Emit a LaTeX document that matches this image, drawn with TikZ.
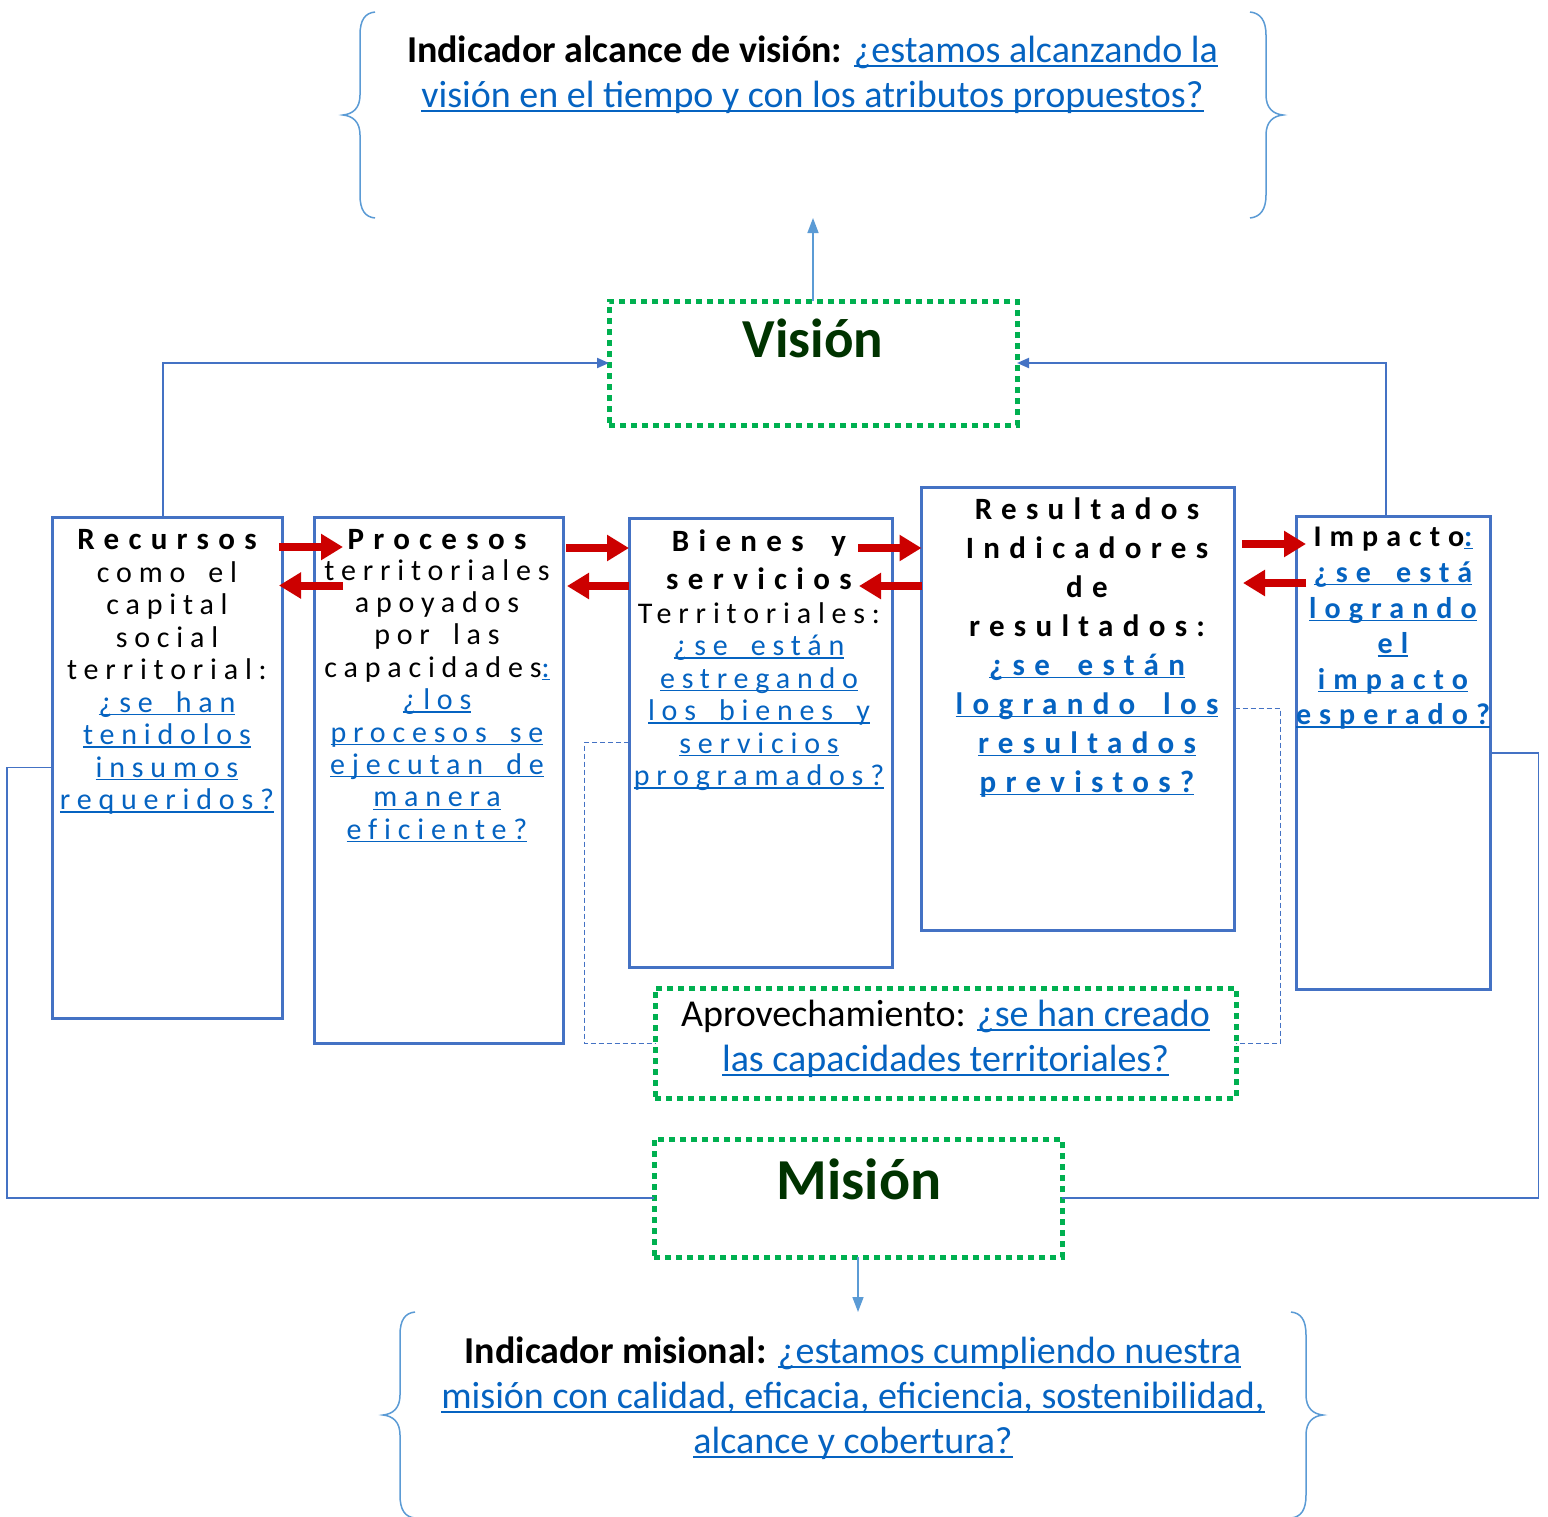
\documentclass[tikz,border=0pt]{standalone}
\usepackage{fontspec}
\setmainfont{Carlito}
\newfontfamily\spR[LetterSpace=22.7,WordSpace=1.7,Ligatures=CommonOff]{Carlito}
\newfontfamily\spB[LetterSpace=30,WordSpace=1.7,Ligatures=CommonOff]{Carlito}
\newfontfamily\spI[LetterSpace=27,WordSpace=1.7,Ligatures=CommonOff]{Carlito}
\usetikzlibrary{arrows.meta}
\definecolor{boxblue}{RGB}{68,114,196}
\definecolor{lightblue}{RGB}{91,155,213}
\definecolor{linkblue}{RGB}{5,99,193}
\definecolor{dgreen}{RGB}{0,176,80}
\definecolor{darkgreen}{RGB}{0,51,0}
\definecolor{arrred}{RGB}{204,0,0}
\newcommand\ulS[1]{\setbox0=\hbox{#1}\rlap{\rule[-3pt]{\wd0}{1.3pt}}\box0}
\newcommand\ulL[1]{\setbox0=\hbox{#1}\rlap{\rule[-4.5pt]{\wd0}{1.8pt}}\box0}
\begin{document}
\begin{tikzpicture}[x=1pt,y=-1pt,
 lt/.style={anchor=base,inner sep=0pt,outer sep=0pt},
 rg/.style={lt,font=\spR\fontsize{30}{36}\selectfont},
 bd/.style={lt,font=\spB\bfseries\fontsize{31}{36}\selectfont},
 bi/.style={lt,font=\spI\bfseries\fontsize{30}{36}\selectfont},
 lk/.style={text=linkblue},
 big/.style={lt,font=\fontsize{38}{45}\selectfont},
 bx/.style={draw=boxblue,line width=3pt,anchor=north west,inner sep=0pt,outer sep=0pt},
 gbox/.style={draw=dgreen,line width=5pt,dash pattern=on 6pt off 5pt,anchor=north west,inner sep=0pt,outer sep=0pt},
 brace/.style={draw=lightblue,line width=1.5pt},
 redarr/.style={draw=arrred,line width=8pt,-{Triangle[length=22pt,width=25pt]}},
 uparr/.style={draw=lightblue,line width=1.5pt,-{Triangle[length=15pt,width=11pt]}},
 conn/.style={draw=boxblue,line width=2pt,-{Triangle[length=12pt,width=10pt]}},
 thinln/.style={draw=boxblue,line width=1.5pt},
 dashln/.style={draw=boxblue,line width=1pt,dash pattern=on 5pt off 3pt}
]
\path[use as bounding box,fill=white] (0,0) rectangle (1548,1516);

% boxes
\node[bx,minimum width=230pt,minimum height=501pt] (rec) at (52,517) {};
\node[bx,minimum width=249pt,minimum height=526pt] (pro) at (314,517) {};
\node[bx,minimum width=263pt,minimum height=449pt] (bie) at (629,518) {};
\node[bx,minimum width=313pt,minimum height=443pt] (res) at (921.5,487) {};
\node[bx,minimum width=194.5pt,minimum height=472.5pt] (imp) at (1296,516.5) {};
\node[gbox,minimum width=408pt,minimum height=124pt] (vis) at (609,301) {};
\node[gbox,minimum width=581pt,minimum height=110pt] (apr) at (655,988) {};
\node[gbox,minimum width=408pt,minimum height=118pt] (mis) at (654,1139) {};

% titles
\node[lt,font=\bfseries\fontsize{55}{60}\selectfont,text=darkgreen] (vist) at (813,357) {Visión};
\node[lt,font=\bfseries\fontsize{58}{60}\selectfont,text=darkgreen] (mist) at (859,1199) {Misión};

% top indicator
\node[big] (t1) at (812.5,62) {\textbf{Indicador alcance de visión:} \textcolor{linkblue}{\ulL{¿estamos alcanzando la}}};
\node[big,lk] (t2) at (812.5,107) {\ulL{visión en el tiempo y con los atributos propuestos?}};
% bottom indicator
\node[big] (b1) at (853,1363) {\textbf{Indicador misional:} \textcolor{linkblue}{\ulL{¿estamos cumpliendo nuestra}}};
\node[big,lk] (b2) at (853,1408) {\ulL{misión con calidad, eficacia, eficiencia, sostenibilidad,}};
\node[big,lk] (b3) at (853,1453) {\ulL{alcance y cobertura?}};
% aprovechamiento
\node[big] (a1) at (945.5,1026.5) {Aprovechamiento: \textcolor{linkblue}{\ulL{¿se han creado}}};
\node[big,lk] (a2) at (945.5,1071.5) {\ulL{las capacidades territoriales?}};

% Recursos text
\node[bd] (rec1) at (167,549) {Recursos};
\node[rg] (rec2) at (167,582) {como el};
\node[rg] (rec3) at (167,614.5) {capital};
\node[rg] (rec4) at (167,647) {social};
\node[rg] (rec5) at (167,679.5) {territorial:};
\node[rg,lk] (rec6) at (167,712) {\ulS{¿se han}};
\node[rg,lk] (rec7) at (167,744.5) {\ulS{tenidolos}};
\node[rg,lk] (rec8) at (167,777) {\ulS{insumos}};
\node[rg,lk] (rec9) at (167,809.5) {\ulS{requeridos?}};

% Procesos text
\node[bd] (pro1) at (437,549) {Procesos};
\node[rg] (pro2) at (437,580) {territoriales};
\node[rg] (pro3) at (437,612.4) {apoyados};
\node[rg] (pro4) at (437,644.8) {por las};
\node[rg] (pro5) at (437,677.2) {capacidades\textcolor{linkblue}{\ulS{:}}};
\node[rg,lk] (pro6) at (437,709.6) {\ulS{¿los}};
\node[rg,lk] (pro7) at (437,742) {\ulS{procesos se}};
\node[rg,lk] (pro8) at (437,774.4) {\ulS{ejecutan de}};
\node[rg,lk] (pro9) at (437,806.8) {\ulS{manera}};
\node[rg,lk] (pro10) at (437,839.2) {\ulS{eficiente?}};

% Bienes text
\node[bd] (bie1) at (759,551) {Bienes y};
\node[bd] (bie2) at (759,589) {servicios};
\node[rg] (bie3) at (759,623) {Territoriales:};
\node[rg,lk] (bie4) at (759,655.5) {\ulS{¿se están}};
\node[rg,lk] (bie5) at (759,688) {\ulS{estregando}};
\node[rg,lk] (bie6) at (759,720.5) {\ulS{los bienes y}};
\node[rg,lk] (bie7) at (759,753) {\ulS{servicios}};
\node[rg,lk] (bie8) at (759,785.5) {\ulS{programados?}};

% Resultados text
\node[bd] (res1) at (1087,519) {Resultados};
\node[bd] (res2) at (1087,558) {Indicadores};
\node[bd] (res3) at (1087,597) {de};
\node[bd] (res4) at (1087,636) {resultados:};
\node[bd,lk] (res5) at (1087,675) {\ulS{¿se están}};
\node[bd,lk] (res6) at (1087,714) {\ulS{logrando los}};
\node[bd,lk] (res7) at (1087,753) {\ulS{resultados}};
\node[bd,lk] (res8) at (1087,792) {\ulS{previstos?}};

% Impacto text
\node[bi] (imp1) at (1393,546) {Impacto\textcolor{linkblue}{\ulS{:}}};
\node[bi,lk] (imp2) at (1393,582) {\ulS{¿se está}};
\node[bi,lk] (imp3) at (1393,618) {\ulS{logrando}};
\node[bi,lk] (imp4) at (1393,653.5) {\ulS{el}};
\node[bi,lk] (imp5) at (1393,689) {\ulS{impacto}};
\node[bi,lk] (imp6) at (1393,724.5) {\ulS{esperado?}};

% braces
\coordinate (tbr) at (813,218);
\coordinate (bbr) at (858,1312);
\draw[brace] (375,12) .. controls (365,13) and (360,20) .. (360,35) -- (360,95) .. controls (360,108) and (353,114) .. (343,115) .. controls (353,116) and (360,122) .. (360,135) -- (360,195) .. controls (360,210) and (365,217) .. (375,218);
\draw[brace] (1250,12) .. controls (1260,13) and (1266,20) .. (1266,35) -- (1266,95) .. controls (1266,108) and (1273,114) .. (1283,115) .. controls (1273,116) and (1266,122) .. (1266,135) -- (1266,195) .. controls (1266,210) and (1260,217) .. (1250,218);
\draw[brace] (415,1312) .. controls (405,1313) and (400,1320) .. (400,1335) -- (400,1395) .. controls (400,1408) and (393,1414) .. (383,1415) .. controls (393,1416) and (400,1422) .. (400,1435) -- (400,1495) .. controls (400,1510) and (405,1517) .. (415,1518);
\draw[brace] (1291,1312) .. controls (1301,1313) and (1306,1320) .. (1306,1335) -- (1306,1395) .. controls (1306,1408) and (1313,1414) .. (1323,1415) .. controls (1313,1416) and (1306,1422) .. (1306,1435) -- (1306,1495) .. controls (1306,1510) and (1301,1517) .. (1291,1518);

% vertical arrows
\draw[uparr] (vis.north) -- (tbr);
\draw[uparr] (mis.south) -- (bbr);

% connectors to vision
\draw[conn] ([xshift=-4pt]rec.north) |- (vis.west);
\draw[conn] ([xshift=-7pt]imp.north) |- (vis.east);

% lines to mision
\draw[thinln] (rec.west) -- ++(-45,0) |- (mis.west);
\draw[thinln] (imp.east) -- ++(48,0) |- (mis.east);

% dashed to aprovechamiento
\draw[dashln] (bie.west) -- ++(-45,0) |- (apr.west);
\draw[dashln] (res.east) -- ++(46,0) |- (apr.east);

% red arrows
\draw[redarr] ([xshift=-3pt,yshift=-30pt]rec.north east) -- ([xshift=29pt,yshift=-30pt]pro.north west);
\draw[redarr] ([xshift=29pt,yshift=-68.5pt]pro.north west) -- ([xshift=-3pt,yshift=-68.5pt]rec.north east);
\draw[redarr] ([xshift=3pt,yshift=-31pt]pro.north east) -- ([yshift=-30pt]bie.north west);
\draw[redarr] ([yshift=-68pt]bie.north west) -- ([xshift=4pt,yshift=-69pt]pro.north east);
\draw[redarr] ([xshift=-34pt,yshift=-30pt]bie.north east) -- ([yshift=-61pt]res.north west);
\draw[redarr] ([yshift=-99pt]res.north west) -- ([xshift=-33pt,yshift=-68pt]bie.north east);
\draw[redarr] ([xshift=7.5pt,yshift=-57pt]res.north east) -- ([xshift=10pt,yshift=-27.5pt]imp.north west);
\draw[redarr] ([xshift=10pt,yshift=-66.5pt]imp.north west) -- ([xshift=8.5pt,yshift=-96pt]res.north east);
\end{tikzpicture}
\end{document}
